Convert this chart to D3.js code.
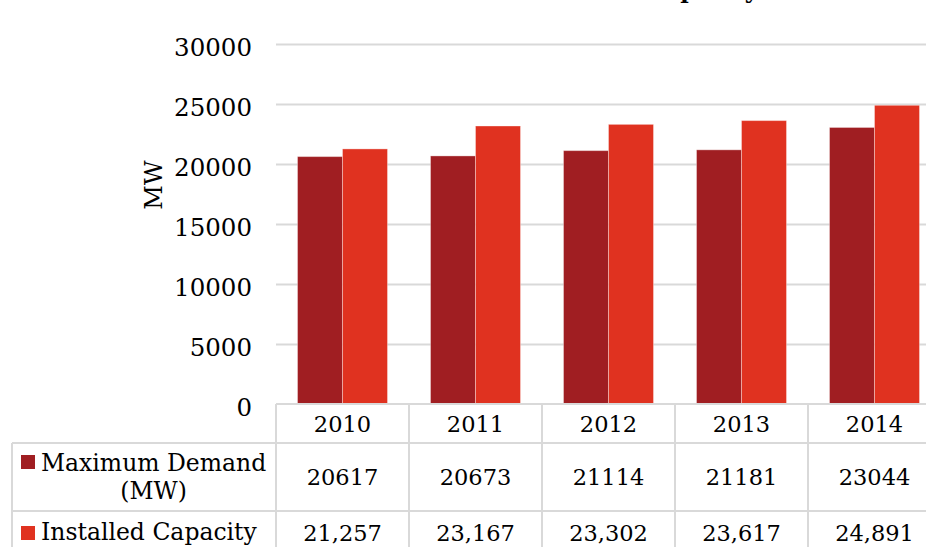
<!DOCTYPE html>
<html>
<head>
<meta charset="utf-8">
<script src="https://cdn.jsdelivr.net/npm/d3@7"></script>
<style>
  html, body { margin: 0; padding: 0; background: #fff; }
  svg { display: block; }
  text { font-family: "DejaVu Serif", Georgia, serif; fill: #000; }
</style>
</head>
<body>
<svg id="chart" width="926" height="547"></svg>
<script>
// Years on the category axis
const years = ["2010", "2011", "2012", "2013", "2014"];
// Series values (MW)
const maxDemand = [20617, 20673, 21114, 21181, 23044];
const installedCapacity = [21257, 23167, 23302, 23617, 24891];
// Series names and labels shown in the data table
const seriesNames = ["Maximum Demand (MW)", "Installed Capacity"];
const demandLabels = ["20617", "20673", "21114", "21181", "23044"];
const capacityLabels = ["21,257", "23,167", "23,302", "23,617", "24,891"];
// Value axis ticks
const yTicks = [0, 5000, 10000, 15000, 20000, 25000, 30000];

const colors = ["#a01e22", "#e03220"];
const gridColor = "#d9d9d9";

const svg = d3.select("#chart");
const W = 926;

// Plot area geometry
const plotLeft = 276, plotRight = 941, plotTop = 44, plotBottom = 404;
const tableLeft = 12;
const headerBottom = 443, row1Bottom = 511, tableBottom = 600;

const x0 = d3.scaleBand().domain(years).range([plotLeft, plotRight]).padding(0);
const x1 = d3.scaleBand().domain([0, 1]).range([0, x0.bandwidth()])
  .paddingInner(0).paddingOuter(0.478);
const y = d3.scaleLinear().domain([0, 30000]).range([plotBottom, plotTop]);

// Title (sits mostly above the visible area)
svg.append("text")
  .attr("x", 758).attr("y", -2)
  .attr("text-anchor", "end")
  .style("font-size", "23px").style("font-weight", "bold")
  .text("Maximum Demand and Installed Capacity");

// Gridlines and value-axis labels
const yAxis = d3.axisLeft(y).tickValues(yTicks).tickSize(0).tickFormat(d3.format("d"));
const gAxis = svg.append("g").attr("transform", `translate(${plotLeft},0)`).call(yAxis);
gAxis.select(".domain").remove();
gAxis.selectAll(".tick text")
  .attr("x", -24).attr("dy", null).attr("y", 11)
  .style("font-family", "\"DejaVu Serif\", Georgia, serif")
  .style("font-size", "24.5px").attr("fill", "#000");
gAxis.selectAll(".tick").filter(d => d > 0).append("line")
  .attr("x1", 0).attr("x2", W - plotLeft)
  .attr("stroke", gridColor).attr("stroke-width", 2);

// Axis title
svg.append("text")
  .attr("transform", `translate(162,185) rotate(-90)`)
  .attr("text-anchor", "middle")
  .style("font-size", "24px")
  .text("MW");

// Bars
const seriesData = [maxDemand, installedCapacity];
const groups = svg.append("g").selectAll("g")
  .data(years).join("g")
  .attr("transform", d => `translate(${x0(d)},0)`);
groups.selectAll("rect")
  .data((d, i) => seriesData.map((s, k) => ({ k, v: s[i] })))
  .join("rect")
  .attr("x", d => x1(d.k))
  .attr("width", x1.bandwidth())
  .attr("y", d => y(d.v))
  .attr("height", d => y(0) - y(d.v))
  .attr("fill", d => colors[d.k])
  .attr("stroke", "rgba(255,255,255,0.35)")
  .attr("stroke-width", 1);

// Data table grid
const grid = svg.append("g").attr("stroke", gridColor).attr("stroke-width", 2);
grid.append("line").attr("x1", plotLeft).attr("x2", plotRight).attr("y1", plotBottom).attr("y2", plotBottom);
grid.append("line").attr("x1", tableLeft).attr("x2", plotRight).attr("y1", headerBottom).attr("y2", headerBottom);
grid.append("line").attr("x1", tableLeft).attr("x2", plotRight).attr("y1", row1Bottom).attr("y2", row1Bottom);
grid.append("line").attr("x1", tableLeft).attr("x2", tableLeft).attr("y1", headerBottom).attr("y2", tableBottom);
years.concat(["end"]).forEach((yr, i) => {
  const xx = plotLeft + i * x0.step();
  grid.append("line").attr("x1", xx).attr("x2", xx).attr("y1", plotBottom).attr("y2", tableBottom);
});

// Header row: years
svg.append("g").selectAll("text").data(years).join("text")
  .attr("x", d => x0(d) + x0.bandwidth() / 2)
  .attr("y", 432)
  .attr("text-anchor", "middle")
  .style("font-size", "22.5px")
  .text(d => d);

// Row values
svg.append("g").selectAll("text").data(demandLabels).join("text")
  .attr("x", (d, i) => x0(years[i]) + x0.bandwidth() / 2)
  .attr("y", 485)
  .attr("text-anchor", "middle")
  .style("font-size", "22.5px")
  .text(d => d);
svg.append("g").selectAll("text").data(capacityLabels).join("text")
  .attr("x", (d, i) => x0(years[i]) + x0.bandwidth() / 2)
  .attr("y", 541)
  .attr("text-anchor", "middle")
  .style("font-size", "22.5px")
  .text(d => d);

// Legend keys and series names
svg.append("rect").attr("x", 21).attr("y", 455).attr("width", 14).attr("height", 14).attr("fill", colors[0]);
svg.append("rect").attr("x", 21).attr("y", 526).attr("width", 14).attr("height", 14).attr("fill", colors[1]);

const nameParts = seriesNames[0].split(" (");
const l1 = svg.append("text").attr("x", 41).attr("y", 471)
  .style("font-size", "23.5px").text(nameParts[0]);
const w1 = l1.node().getComputedTextLength();
svg.append("text").attr("x", 41 + w1 / 2).attr("y", 499)
  .attr("text-anchor", "middle")
  .style("font-size", "23.5px").text("(" + nameParts[1]);
svg.append("text").attr("x", 41).attr("y", 540)
  .style("font-size", "23.5px").text(seriesNames[1]);
</script>
</body>
</html>
